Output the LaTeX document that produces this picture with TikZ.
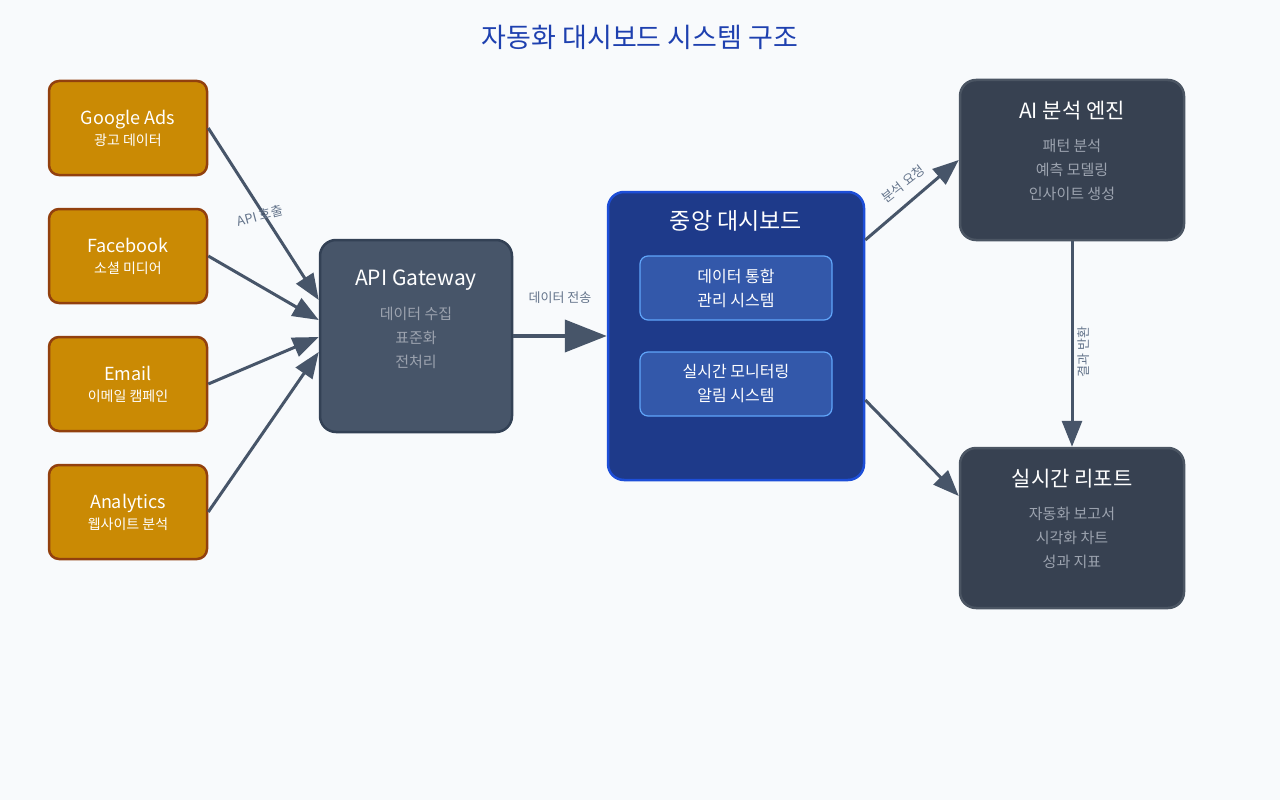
\documentclass[tikz,border=0pt]{standalone}
\usepackage{fontspec}
\setmainfont{Noto Sans CJK KR}
\usetikzlibrary{arrows.meta}
\definecolor{bg}{HTML}{F8FAFC}
\definecolor{srcfill}{HTML}{CA8A04}
\definecolor{srcdraw}{HTML}{92400E}
\definecolor{gwfill}{HTML}{475569}
\definecolor{gwdraw}{HTML}{334155}
\definecolor{cfill}{HTML}{1E3A8A}
\definecolor{cdraw}{HTML}{1D4ED8}
\definecolor{ifill}{HTML}{3358AA}
\definecolor{idraw}{HTML}{60A5FA}
\definecolor{dfill}{HTML}{374151}
\definecolor{ddraw}{HTML}{4B5563}
\definecolor{sub}{HTML}{9CA3AF}
\definecolor{lab}{HTML}{64748B}
\definecolor{ttl}{HTML}{1E40AF}
\definecolor{arr}{HTML}{475569}
\begin{document}
\begin{tikzpicture}[x=1pt,y=-1pt,
  src/.style={draw=srcdraw,fill=srcfill,line width=2.5pt,rounded corners=10pt,minimum width=158pt,minimum height=94pt,text=white,align=center,font=\fontsize{14}{21}\selectfont},
  box/.style={rounded corners=16pt,line width=2.5pt,align=center,text=white},
  inner/.style={draw=idraw,fill=ifill,line width=1.2pt,rounded corners=8pt,minimum width=192pt,minimum height=64pt,text=white,align=center,font=\fontsize{16}{24}\selectfont},
  conn/.style={draw=arr,line width=3pt,-{Triangle[length=26pt,width=20pt]}},
  big/.style={draw=arr,line width=4pt,-{Triangle[length=42pt,width=32pt]}},
  lbl/.style={text=lab,font=\fontsize{13}{15}\selectfont}]
\fill[bg] (0,0) rectangle (1280,800);
\useasboundingbox (0,0) rectangle (1280,800);
\node[text=ttl,font=\fontsize{27}{32}\selectfont] (title) at (640,37) {자동화 대시보드 시스템 구조};
\node[src] (ga) at (128,128) {{\fontsize{18}{25}\selectfont Google Ads}\\광고 데이터};
\node[src] (fb) at (128,256) {{\fontsize{18}{25}\selectfont Facebook}\\소셜 미디어};
\node[src] (em) at (128,384) {{\fontsize{18}{25}\selectfont Email}\\이메일 캠페인};
\node[src] (an) at (128,512) {{\fontsize{18}{25}\selectfont Analytics}\\웹사이트 분석};
\node[box,draw=gwdraw,fill=gwfill,minimum width=192pt,minimum height=192pt] (gw) at (416,336) {};
\node[text=white,font=\fontsize{21}{25}\selectfont] (gwt) at (416,280) {API Gateway};
\node[text=sub,align=center,font=\fontsize{15}{24}\selectfont] (gws) at (416,338) {데이터 수집\\표준화\\전처리};
\node[box,draw=cdraw,fill=cfill,minimum width=256pt,minimum height=288pt] (cd) at (736,336) {};
\node[text=white,font=\fontsize{23}{27}\selectfont] (cdt) at (736,221) {중앙 대시보드};
\node[inner] (i1) at (736,288) {데이터 통합\\관리 시스템};
\node[inner] (i2) at (736,384) {실시간 모니터링\\알림 시스템};
\node[box,draw=ddraw,fill=dfill,minimum width=224pt,minimum height=160pt] (ai) at (1072,160) {};
\node[text=white,font=\fontsize{21}{25}\selectfont] (ait) at (1072,111) {AI 분석 엔진};
\node[text=sub,align=center,font=\fontsize{15}{24}\selectfont] (ais) at (1072,170) {패턴 분석\\예측 모델링\\인사이트 생성};
\node[box,draw=ddraw,fill=dfill,minimum width=224pt,minimum height=160pt] (rp) at (1072,528) {};
\node[text=white,font=\fontsize{21}{25}\selectfont] (rpt) at (1072,479) {실시간 리포트};
\node[text=sub,align=center,font=\fontsize{15}{24}\selectfont] (rps) at (1072,538) {자동화 보고서\\시각화 차트\\성과 지표};
\draw[conn] (ga.east) -- ([yshift=36pt]gw.west);
\draw[conn] (fb.east) -- ([yshift=16pt]gw.west);
\draw[conn] (em.east) -- ([yshift=-1pt]gw.west);
\draw[conn] (an.east) -- ([yshift=-16pt]gw.west);
\draw[big] (gw.east) -- (cd.west);
\draw[conn] ([yshift=96pt]cd.east) -- (ai.west);
\draw[conn] ([yshift=-64pt]cd.east) -- ([yshift=32pt]rp.west);
\draw[conn] (ai.south) -- (rp.north);
\node[lbl,rotate=15] (l1) at (260,216) {API 호출};
\node[lbl] (l2) at (560,298) {데이터 전송};
\node[lbl,rotate=38] (l3) at (903,184) {분석 요청};
\node[lbl,rotate=90] (l4) at (1084,352) {결과 반환};
\end{tikzpicture}
\end{document}
